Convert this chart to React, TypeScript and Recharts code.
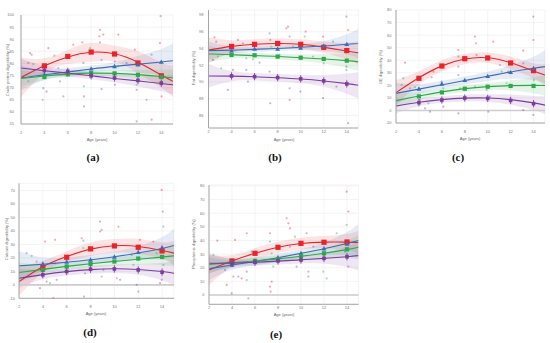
import React from 'react';
import { ComposedChart, Line, Area, Scatter, XAxis, YAxis, CartesianGrid, ReferenceLine } from 'recharts';

// ---- shared ----
const AGES = [2, 4, 6, 8, 10, 12, 14, 15];
const MEAN_AGES = [4, 6, 8, 10, 12, 14];
const X_TICKS = [2, 4, 6, 8, 10, 12, 14];
const COLORS = ['#e8232c', '#3d6db5', '#2fa84a', '#7b3c9d'];

// ---- (a) Crude protein ----
const A_TICKS = [55, 60, 65, 70, 75, 80, 85, 90, 95, 100];
const A_FIT = [
  [74.2, 79.0, 82.7, 84.6, 84.0, 80.5, 75.2, 72.6],
  [74.0, 75.3, 76.5, 77.7, 78.8, 79.7, 80.6, 81.1],
  [73.8, 74.8, 75.6, 76.0, 75.9, 75.4, 74.6, 74.0],
  [78.1, 77.0, 76.0, 74.9, 73.8, 72.8, 71.7, 71.2],
];
const A_BAND = [
  [8.1, 3.1, 2.9, 3.9, 3.3, 4.5, 5.2, 6.5],
  [5.2, 2.1, 1.6, 1.4, 1.7, 3.4, 5.4, 7.2],
  [3.4, 1.6, 1.2, 1.2, 1.3, 1.9, 2.8, 3.5],
  [3.8, 2.0, 1.5, 1.4, 1.6, 2.3, 3.2, 4.0],
];
const A_MEAN = [
  [79.0, 82.9, 84.7, 83.9, 80.2, 74.9],
  [75.3, 76.7, 77.8, 78.8, 79.5, 80.6],
  [74.4, 75.5, 76.0, 75.9, 75.3, 74.4],
  [77.1, 76.7, 74.9, 74.0, 73.0, 71.9],
];
const A_POINTS = [
  [2.77, 84.3, 0], [2.91, 83.6, 3], [2.63, 80.2, 1], [3.05, 79.7, 2], [2.63, 72.6, 2], [3.91, 69.8, 1],
  [3.85, 65.0, 2], [4.19, 68.4, 3], [4.34, 86.3, 0], [4.85, 83.2, 2], [5.19, 78.1, 1], [5.33, 72.6, 3],
  [5.62, 66.4, 1], [5.9, 82.9, 0], [6.47, 87.7, 0], [7.24, 88.7, 0], [7.33, 80.2, 1], [7.38, 70.5, 2],
  [7.38, 66.4, 0], [7.38, 62.3, 3], [7.9, 86.3, 2], [8.75, 93.9, 0], [8.7, 91.2, 0], [8.75, 88.7, 3],
  [8.89, 81.5, 1], [8.89, 69.4, 3], [9.04, 91.9, 0], [9.9, 84.3, 2], [10.03, 80.8, 1], [10.03, 71.2, 3],
  [10.32, 91.9, 0], [10.32, 78.8, 2], [11.03, 80.2, 1], [11.74, 85.7, 0], [11.89, 71.2, 2], [11.89, 69.1, 3],
  [11.89, 56.1, 1], [12.74, 65.0, 0], [13.17, 83.6, 1], [13.17, 56.8, 0], [13.94, 99.5, 1], [13.88, 88.4, 0],
  [14.02, 66.4, 0], [14.02, 71.2, 3],
];

// ---- (b) Fat ----
const B_TICKS = [86, 88, 90, 92, 94, 96, 98];
const B_FIT = [
  [93.8, 94.25, 94.5, 94.6, 94.5, 94.15, 93.7, 93.5],
  [93.75, 93.8, 93.9, 94.0, 94.15, 94.3, 94.5, 94.6],
  [93.35, 93.25, 93.15, 93.05, 92.9, 92.75, 92.55, 92.4],
  [90.72, 90.7, 90.62, 90.5, 90.35, 90.12, 89.8, 89.6],
];
const B_BAND = [
  [1.55, 0.75, 0.6, 0.6, 0.6, 0.7, 1.0, 1.4],
  [1.1, 0.45, 0.3, 0.3, 0.35, 0.6, 1.2, 1.8],
  [1.0, 0.45, 0.35, 0.35, 0.4, 0.55, 0.85, 1.1],
  [1.4, 0.6, 0.45, 0.45, 0.5, 0.7, 1.2, 1.6],
];
const B_MEAN = [
  [94.25, 94.5, 94.6, 94.5, 94.14, 93.75],
  [93.75, 93.94, 93.94, 94.06, 94.3, 94.5],
  [93.23, 93.19, 93.03, 92.9, 92.75, 92.55],
  [90.72, 90.64, 90.52, 90.37, 90.13, 89.77],
];
const B_POINTS = [
  [2.52, 95.34, 0], [2.67, 94.82, 1], [2.81, 93.03, 2], [2.38, 92.63, 3], [3.1, 91.64, 2], [3.68, 89.05, 3],
  [4.12, 91.44, 3], [4.55, 95.02, 0], [4.99, 94.62, 1], [5.28, 92.83, 2], [5.28, 91.44, 3], [5.42, 90.05, 3],
  [5.86, 92.71, 2], [6.43, 92.31, 1], [7.3, 95.81, 1], [7.36, 95.02, 0], [7.3, 91.24, 3], [7.36, 87.46, 3],
  [7.45, 94.22, 2], [8.17, 93.23, 2], [8.75, 96.41, 0], [8.9, 96.61, 0], [9.04, 95.42, 1], [9.04, 89.25, 3],
  [9.04, 87.86, 0], [9.33, 94.22, 2], [9.91, 94.02, 1], [9.97, 88.85, 3], [10.43, 96.01, 0], [10.35, 95.42, 2],
  [11.07, 93.03, 2], [11.94, 95.42, 0], [11.94, 88.06, 3], [12.0, 92.23, 2], [12.81, 94.82, 1], [13.1, 89.45, 3],
  [13.97, 97.8, 1], [14.12, 96.21, 0], [13.97, 91.44, 2], [13.97, 91.84, 3], [14.12, 85.08, 3],
];

// ---- (c) GE ----
const C_TICKS = [-10, 0, 10, 20, 30, 40, 50, 60, 70, 80];
const C_FIT = [
  [14.2, 26.0, 35.5, 41.0, 42.0, 38.0, 31.5, 28.2],
  [13.6, 17.0, 20.4, 23.8, 27.2, 30.6, 33.6, 34.9],
  [7.8, 11.5, 14.8, 17.4, 19.0, 19.8, 20.0, 19.9],
  [3.5, 6.5, 8.6, 9.8, 9.9, 8.6, 6.0, 4.2],
];
const C_BAND = [
  [10.0, 5.3, 4.5, 4.2, 4.2, 5.0, 6.1, 8.8],
  [8.5, 4.0, 3.2, 3.2, 3.7, 5.3, 9.3, 13.3],
  [5.8, 3.2, 2.7, 2.7, 2.9, 4.0, 6.4, 8.5],
  [5.8, 3.2, 2.7, 2.7, 2.9, 4.0, 5.6, 7.2],
];
const C_MEAN = [
  [25.6, 35.4, 41.2, 41.8, 37.8, 31.7],
  [17.1, 21.1, 24.0, 27.2, 30.4, 33.5],
  [11.2, 14.4, 17.3, 18.9, 19.5, 19.5],
  [6.2, 8.3, 9.9, 9.6, 8.0, 5.4],
];
const C_POINTS = [
  [2.78, 38.1, 0], [2.64, 25.6, 1], [2.49, 20.3, 2], [3.22, 17.6, 1], [3.66, 18.4, 2], [4.09, 8.3, 3],
  [4.53, 1.7, 3], [4.82, 5.7, 2], [4.97, -1.0, 3], [5.11, 26.4, 0], [5.26, 30.9, 0], [5.98, 22.9, 1],
  [6.13, 17.6, 2], [6.13, 3.0, 3], [7.44, 48.1, 0], [7.44, 42.8, 0], [7.44, 34.9, 1], [7.44, 28.2, 1],
  [7.58, 17.6, 2], [7.44, -2.3, 3], [8.89, 58.8, 0], [8.98, 53.5, 0], [9.03, 44.2, 0], [8.89, 18.9, 2],
  [9.91, 16.3, 2], [10.05, -1.0, 3], [10.2, 11.0, 3], [10.49, 54.8, 0], [11.07, 36.2, 1], [11.22, 30.9, 1],
  [11.65, 21.6, 2], [11.8, 30.9, 0], [13.1, 47.6, 0], [13.1, 37.5, 1], [13.1, 0.3, 3], [13.98, 74.7, 1],
  [13.98, 56.1, 0], [14.03, 24.2, 2], [13.98, -3.6, 3],
];

// ---- (d) Calcium ----
const D_TICKS = [-10, 0, 10, 20, 30, 40, 50, 60, 70];
const D_FIT = [
  [2.4, 13.5, 21.0, 26.5, 29.0, 28.5, 25.5, 23.5],
  [14.1, 15.3, 16.8, 18.6, 20.9, 23.6, 27.0, 29.2],
  [9.1, 11.5, 13.7, 15.6, 17.4, 19.0, 20.6, 21.5],
  [4.9, 7.6, 9.8, 11.3, 11.9, 11.4, 9.9, 8.6],
];
const D_BAND = [
  [10.5, 4.3, 4.0, 5.0, 5.0, 5.5, 6.2, 9.3],
  [11.0, 5.0, 3.5, 3.5, 3.8, 5.0, 8.5, 12.4],
  [7.4, 3.5, 2.8, 3.0, 3.2, 4.0, 6.0, 8.0],
  [7.0, 3.5, 2.8, 3.0, 3.2, 4.0, 6.5, 9.3],
];
const D_MEAN = [
  [12.8, 20.5, 26.7, 28.9, 27.9, 25.2],
  [15.5, 17.0, 18.5, 20.7, 24.2, 27.7],
  [11.1, 13.6, 15.5, 17.3, 19.5, 20.7],
  [7.4, 9.9, 11.6, 11.8, 11.1, 9.4],
];
const D_POINTS = [
  [2.64, 23.5, 1], [3.06, 21.5, 2], [3.48, 17.3, 1], [3.76, -2.5, 0], [4.18, 32.1, 0], [4.32, 2.4, 3],
  [4.6, 1.2, 2], [4.88, -9.9, 0], [5.02, 33.4, 0], [5.02, 16.0, 1], [5.16, 3.7, 3], [5.86, 9.9, 3],
  [6.0, 14.8, 2], [7.26, 34.6, 0], [7.4, 32.9, 1], [7.4, 27.2, 2], [7.54, 8.6, 3], [7.45, -8.7, 1],
  [8.8, 47.0, 0], [8.8, 39.6, 0], [8.94, 40.8, 1], [9.08, 11.1, 3], [8.94, 6.1, 2], [10.06, 17.3, 2],
  [10.34, 43.3, 0], [10.2, 4.9, 0], [10.48, 3.7, 3], [11.45, 22.2, 1], [11.59, 14.8, 2], [11.87, 0.0, 3],
  [12.01, -5.0, 1], [12.15, 33.4, 0], [13.27, 32.1, 0], [13.55, 23.5, 2], [13.97, 70.5, 0], [14.06, 54.4, 0],
  [14.11, 43.3, 1], [14.11, 14.8, 2], [13.97, 3.7, 3], [13.83, 1.2, 0],
];

// ---- (e) Phosphorus ----
const E_TICKS = [0, 10, 20, 30, 40, 50, 60, 70, 80];
const E_FIT = [
  [18.4, 25.0, 30.6, 35.0, 37.8, 38.8, 38.8, 38.5],
  [19.3, 22.0, 24.6, 27.4, 30.6, 34.0, 37.8, 40.0],
  [22.5, 23.8, 25.0, 26.5, 28.4, 30.6, 33.3, 35.0],
  [23.3, 23.4, 24.0, 24.9, 25.8, 26.9, 28.1, 28.9],
];
const E_BAND = [
  [11.0, 4.3, 3.8, 4.0, 4.2, 4.5, 6.0, 8.6],
  [8.3, 3.5, 3.0, 3.0, 3.2, 4.5, 8.5, 12.0],
  [6.7, 3.0, 2.5, 2.5, 2.7, 3.8, 6.5, 9.0],
  [7.3, 3.0, 2.5, 2.5, 2.7, 4.0, 7.5, 11.0],
];
const E_MEAN = [
  [25.0, 30.6, 35.0, 37.9, 38.7, 38.9],
  [22.0, 24.5, 27.4, 30.6, 34.0, 37.4],
  [23.7, 25.0, 26.4, 28.4, 30.6, 33.5],
  [23.3, 24.0, 25.0, 25.7, 26.9, 28.1],
];
const E_POINTS = [
  [2.38, 29.4, 2], [2.72, 39.9, 0], [3.39, 18.4, 1], [3.54, 7.4, 0], [3.97, 1.2, 3], [4.12, 13.5, 0],
  [4.26, 40.4, 0], [4.55, 13.5, 3], [4.84, 12.2, 0], [5.28, 45.3, 0], [5.28, 11.0, 2], [5.42, -2.4, 1],
  [5.28, 17.1, 3], [5.71, 31.8, 1], [7.3, 45.3, 0], [7.3, 39.2, 1], [7.45, 30.6, 2], [7.3, 6.1, 0],
  [7.36, 2.5, 0], [7.45, 9.8, 3], [7.59, 20.8, 2], [8.75, 56.3, 0], [8.9, 52.6, 0], [9.04, 48.9, 0],
  [9.04, 35.5, 1], [9.48, 42.8, 2], [9.62, 20.8, 3], [10.49, 45.3, 0], [10.64, 17.1, 0], [10.64, 13.5, 3],
  [11.07, 35.5, 1], [11.94, 17.1, 2], [12.23, 12.2, 2], [13.1, 45.3, 1], [13.97, 75.8, 0], [14.12, 61.2, 0],
  [13.97, 51.4, 2], [14.12, 20.8, 3], [13.83, 31.8, 1],
];

const FONT = '"Liberation Sans", Arial, sans-serif';
const SMALL = 4;

type Panel = {
  left: number; top: number; width: number; height: number;
  margin: { top: number; right: number; bottom: number; left: number };
  yWidth: number; yDomain: [number, number]; yTicks: number[];
  xGap: number; yGap: number;
  fit: number[][]; band: number[][]; mean: number[][]; points: number[][];
  zero: boolean;
};

const PANELS: Panel[] = [
  { left: 0, top: 0, width: 180, height: 150, margin: { top: 15, right: 7, bottom: 6, left: 0 }, yWidth: 21,
    yDomain: [55, 100], yTicks: A_TICKS, xGap: 7.5, yGap: 7, fit: A_FIT, band: A_BAND, mean: A_MEAN, points: A_POINTS, zero: false },
  { left: 180, top: 0, width: 180, height: 150, margin: { top: 10, right: 1.7, bottom: 2, left: 0 }, yWidth: 28.5,
    yDomain: [84.5, 98.6], yTicks: B_TICKS, xGap: 2.5, yGap: 5, fit: B_FIT, band: B_BAND, mean: B_MEAN, points: B_POINTS, zero: false },
  { left: 360, top: 0, width: 190, height: 150, margin: { top: 10, right: 5, bottom: 7, left: 0 }, yWidth: 36,
    yDomain: [-10, 80], yTicks: C_TICKS, xGap: 7.5, yGap: 4.5, fit: C_FIT, band: C_BAND, mean: C_MEAN, points: C_POINTS, zero: true },
  { left: 0, top: 170, width: 180, height: 150, margin: { top: 13.3, right: 6, bottom: 1.7, left: 0 }, yWidth: 19,
    yDomain: [-10, 75.4], yTicks: D_TICKS, xGap: 7, yGap: 4, fit: D_FIT, band: D_BAND, mean: D_MEAN, points: D_POINTS, zero: true },
  { left: 180, top: 170, width: 182, height: 160, margin: { top: 15, right: 3.5, bottom: 5.7, left: 0 }, yWidth: 29,
    yDomain: [-6.8, 80.7], yTicks: E_TICKS, xGap: 2, yGap: 4.5, fit: E_FIT, band: E_BAND, mean: E_MEAN, points: E_POINTS, zero: true },
];

const Y_TITLES = ['Crude protein digestibility (%)', 'Fat digestibility (%)', 'GE digestibility (%)', 'Calcium digestibility (%)', 'Phosphorus digestibility (%)'];
const Y_TITLE_POS = [[7.5, 70], [194, 68], [381, 67], [7, 239], [194, 244]];
const X_TITLE_POS = [[97, 140], [284, 139.5], [470, 138.5], [96, 314], [284, 314.5]];
const CAPTIONS = ['(a)', '(b)', '(c)', '(d)', '(e)'];
const CAPTION_POS = [[93, 158], [275, 158], [458, 158], [90, 333], [276, 335]];

const dotShape = (g: number) => (props: any) => {
  const { cx, cy } = props;
  if (cx == null || cy == null) return <g />;
  return <circle cx={cx} cy={cy} r={1.1} fill={COLORS[g]} fillOpacity={0.4} />;
};

const meanShape = (g: number) => (props: any) => {
  const { cx, cy } = props;
  if (cx == null || cy == null) return <g />;
  const c = COLORS[g];
  if (g === 0) return <rect x={cx - 2.6} y={cy - 2.6} width={5.2} height={5.2} fill={c} />;
  if (g === 1) return <path d={`M${cx},${cy - 2.6}L${cx + 2.4},${cy + 1.8}L${cx - 2.4},${cy + 1.8}Z`} fill={c} />;
  if (g === 2) return <rect x={cx - 2.1} y={cy - 2.1} width={4.2} height={4.2} fill={c} />;
  return (
    <g>
      <line x1={cx} y1={cy - 3.6} x2={cx} y2={cy + 3.6} stroke={c} strokeWidth={0.9} />
      <rect x={cx - 1.8} y={cy - 1.8} width={3.6} height={3.6} fill={c} />
    </g>
  );
};

function PanelChart({ p }: { p: Panel }) {
  const curve = AGES.map((x, i) => {
    const row: any = { x };
    for (let g = 0; g < 4; g++) {
      const f = p.fit[g][i];
      const h = p.band[g][i];
      row['f' + g] = f;
      row['b' + g] = [f - h, f + h];
    }
    return row;
  });
  const means = p.mean.map((arr) => MEAN_AGES.map((x, i) => ({ x, y: arr[i] })));
  const pts = [0, 1, 2, 3].map((g) => p.points.filter((q) => q[2] === g).map((q) => ({ x: q[0], y: q[1] })));
  const axisStyle = { stroke: '#9c9c9c', strokeWidth: 0.9 };
  const tickStyle = { fontSize: SMALL, fill: '#7a7a7a', fontFamily: FONT };
  return (
    <div style={{ position: 'absolute', left: p.left, top: p.top }}>
      <ComposedChart width={p.width} height={p.height} margin={p.margin}>
        <CartesianGrid stroke="#ececec" strokeWidth={0.6} />
        <XAxis type="number" dataKey="x" domain={[2, 15]} ticks={X_TICKS} allowDataOverflow interval={0}
          tickLine={false} tickSize={0} tickMargin={p.xGap} height={20} axisLine={axisStyle} tick={tickStyle} />
        <YAxis type="number" domain={p.yDomain} ticks={p.yTicks} allowDataOverflow interval={0}
          tickLine={false} tickSize={0} tickMargin={p.yGap} width={p.yWidth} axisLine={axisStyle} tick={tickStyle} />
        {p.zero && <ReferenceLine y={0} stroke="#cdcdcd" strokeWidth={1.6} />}
        {[0, 1, 2, 3].map((g) => (
          <Area key={'a' + g} data={curve} dataKey={'b' + g} type="natural" stroke="none"
            fill={COLORS[g]} fillOpacity={0.13} isAnimationActive={false} />
        ))}
        {[0, 1, 2, 3].map((g) => (
          <Scatter key={'p' + g} data={pts[g]} dataKey="y" shape={dotShape(g)} isAnimationActive={false} />
        ))}
        {[0, 1, 2, 3].map((g) => (
          <Line key={'l' + g} data={curve} dataKey={'f' + g} type="natural" stroke={COLORS[g]}
            strokeWidth={1.1} dot={false} activeDot={false} isAnimationActive={false} />
        ))}
        {[0, 1, 2, 3].map((g) => (
          <Scatter key={'m' + g} data={means[g]} dataKey="y" shape={meanShape(g)} isAnimationActive={false} />
        ))}
      </ComposedChart>
    </div>
  );
}

export default function App() {
  return (
    <div style={{ position: 'absolute', left: 0, top: 0, width: 550, height: 343, background: '#fff', overflow: 'hidden' }}>
      {PANELS.map((p, i) => <PanelChart key={i} p={p} />)}
      <svg width={550} height={343} style={{ position: 'absolute', left: 0, top: 0, pointerEvents: 'none' }}>
        {Y_TITLES.map((t, i) => (
          <text key={'yt' + i} x={Y_TITLE_POS[i][0]} y={Y_TITLE_POS[i][1]} fontSize={SMALL} fill="#666"
            fontFamily={FONT} textAnchor="middle" dominantBaseline="middle"
            transform={`rotate(-90 ${Y_TITLE_POS[i][0]} ${Y_TITLE_POS[i][1]})`}>{t}</text>
        ))}
        {X_TITLE_POS.map((pos, i) => (
          <text key={'xt' + i} x={pos[0]} y={pos[1]} fontSize={SMALL} fill="#666" fontFamily={FONT}
            textAnchor="middle" dominantBaseline="middle">Age (years)</text>
        ))}
        {CAPTIONS.map((c, i) => (
          <text key={'c' + i} x={CAPTION_POS[i][0]} y={CAPTION_POS[i][1]} fontSize={11} fontWeight="bold"
            fill="#111" fontFamily='"Liberation Serif", "Times New Roman", serif' textAnchor="middle"
            dominantBaseline="middle">{c}</text>
        ))}
      </svg>
    </div>
  );
}
